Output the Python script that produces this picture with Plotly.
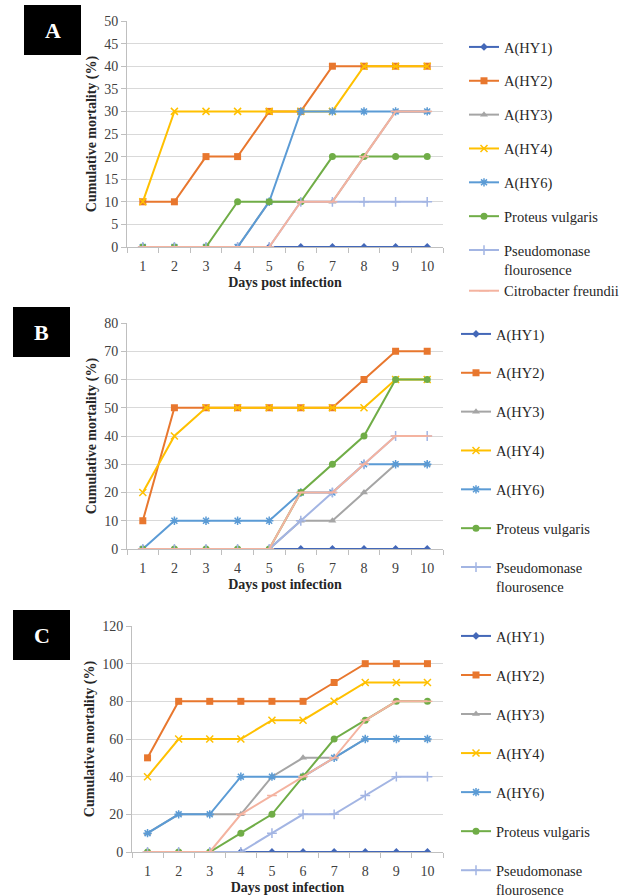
import plotly.graph_objects as go

days = ["1", "2", "3", "4", "5", "6", "7", "8", "9", "10"]
series_names = ["A(HY1)", "A(HY2)", "A(HY3)", "A(HY4)", "A(HY6)",
                "Proteus vulgaris", "Pseudomonase<br>flourosence", "Citrobacter freundii"]

# Panel A
hy1_a = [0, 0, 0, 0, 0, 0, 0, 0, 0, 0]
hy2_a = [10, 10, 20, 20, 30, 30, 40, 40, 40, 40]
hy3_a = [0, 0, 0, 0, 10, 10, 10, 20, 30, 30]
hy4_a = [10, 30, 30, 30, 30, 30, 30, 40, 40, 40]
hy6_a = [0, 0, 0, 0, 10, 30, 30, 30, 30, 30]
prot_a = [0, 0, 0, 10, 10, 10, 20, 20, 20, 20]
pseu_a = [0, 0, 0, 0, 0, 10, 10, 10, 10, 10]
citro_a = [0, 0, 0, 0, 0, 10, 10, 20, 30, 30]

# Panel B
hy1_b = [0, 0, 0, 0, 0, 0, 0, 0, 0, 0]
hy2_b = [10, 50, 50, 50, 50, 50, 50, 60, 70, 70]
hy3_b = [0, 0, 0, 0, 0, 10, 10, 20, 30, 30]
hy4_b = [20, 40, 50, 50, 50, 50, 50, 50, 60, 60]
hy6_b = [0, 10, 10, 10, 10, 20, 20, 30, 30, 30]
prot_b = [0, 0, 0, 0, 0, 20, 30, 40, 60, 60]
pseu_b = [0, 0, 0, 0, 0, 10, 20, 30, 40, 40]
citro_b = [0, 0, 0, 0, 0, 20, 20, 30, 40, 40]

# Panel C
hy1_c = [0, 0, 0, 0, 0, 0, 0, 0, 0, 0]
hy2_c = [50, 80, 80, 80, 80, 80, 90, 100, 100, 100]
hy3_c = [10, 20, 20, 20, 40, 50, 50, 60, 60, 60]
hy4_c = [40, 60, 60, 60, 70, 70, 80, 90, 90, 90]
hy6_c = [10, 20, 20, 40, 40, 40, 50, 60, 60, 60]
prot_c = [0, 0, 0, 10, 20, 40, 60, 70, 80, 80]
pseu_c = [0, 0, 0, 0, 10, 20, 20, 30, 40, 40]
citro_c = [0, 0, 0, 20, 30, 40, 50, 70, 80, 80]

y_ranges = [50, 80, 120]
y_dticks = [5, 10, 20]
panel_labels = ["A", "B", "C"]

colors = ["#4468B8", "#E8772E", "#A5A5A5", "#FFC000", "#5B9BD5", "#70AD47", "#A3B5E3", "#F4B3A0"]
symbols = ["diamond", "square", "triangle-up", "x-thin", "asterisk", "circle", "cross-thin", "line-ew"]
msizes = [6, 7, 7, 7, 7, 7, 7, 7]

panels = [
    [hy1_a, hy2_a, hy3_a, hy4_a, hy6_a, prot_a, pseu_a, citro_a],
    [hy1_b, hy2_b, hy3_b, hy4_b, hy6_b, prot_b, pseu_b, citro_b],
    [hy1_c, hy2_c, hy3_c, hy4_c, hy6_c, prot_c, pseu_c, citro_c],
]

W, H = 625, 896
# plot areas in pixels (left, right, top, bottom)
areas = [(127, 443, 21, 247), (127, 443, 323, 549), (132, 443, 626, 852)]
label_boxes = [(24, 81, 5, 55), (13, 70, 307, 357), (13, 70, 610, 660)]
legend_pos = [(464, 31), (456, 318), (456, 620)]
legend_gaps = [12, 17, 17.2]

FONT = "Liberation Serif, Times New Roman, serif"
fig = go.Figure()

for p, data in enumerate(panels):
    sfx = "" if p == 0 else str(p + 1)
    for i, ys in enumerate(data):
        open_sym = symbols[i] in ("x-thin", "asterisk", "cross-thin", "line-ew")
        show = True
        if p > 0 and i == 7:
            show = False
        group = f"p{p}s{min(i, 6)}"
        fig.add_trace(go.Scatter(
            x=days, y=ys, name=series_names[i], mode="lines+markers",
            xaxis="x" + sfx, yaxis="y" + sfx,
            legend="legend" + sfx, legendgroup=group, showlegend=show,
            line=dict(color=colors[i], width=2),
            marker=dict(symbol=symbols[i], size=msizes[i], color=colors[i],
                        line=dict(color=colors[i], width=1.5 if open_sym else 0)),
        ))

    l, r, t, b = areas[p]
    xdom = [l / W, r / W]
    ydom = [1 - b / H, 1 - t / H]
    fig.update_layout(**{
        "xaxis" + sfx: dict(
            domain=xdom, anchor="y" + sfx, type="category", automargin=False,
            range=[-0.5, len(days) - 0.5],
            tickson="boundaries", ticks="outside", ticklen=5, tickcolor="#BFBFBF",
            ticklabelstandoff=6,
            showline=True, linecolor="#BFBFBF", linewidth=1, showgrid=False,
            tickfont=dict(family=FONT, size=14, color="#404040"),
            title=dict(text="<b>Days post infection</b>", standoff=4,
                       font=dict(family=FONT, size=14, color="#262626")),
        ),
        "yaxis" + sfx: dict(
            domain=ydom, anchor="x" + sfx, range=[0, y_ranges[p]], dtick=y_dticks[p],
            automargin=False,
            ticks="outside", ticklen=5, tickcolor="#BFBFBF",
            showline=True, linecolor="#BFBFBF", linewidth=1,
            showgrid=True, gridcolor="#D9D9D9", gridwidth=1, zeroline=False,
            tickfont=dict(family=FONT, size=14, color="#404040"),
            title=dict(text="<b>Cumulative mortality (%)</b>", standoff=4,
                       font=dict(family=FONT, size=14, color="#262626")),
        ),
        "legend" + sfx: dict(
            x=legend_pos[p][0] / W, y=1 - legend_pos[p][1] / H,
            xanchor="left", yanchor="top", bgcolor="rgba(0,0,0,0)",
            font=dict(family=FONT, size=14.5, color="#262626"),
            tracegroupgap=legend_gaps[p], valign="top", itemwidth=30,
        ),
    })

    bl, br, bt, bb = label_boxes[p]
    fig.add_shape(type="rect", xref="paper", yref="paper",
                  x0=bl / W, x1=br / W, y0=1 - bb / H, y1=1 - bt / H,
                  fillcolor="black", line=dict(width=0))
    fig.add_annotation(xref="paper", yref="paper",
                       x=(bl + br) / 2 / W, y=1 - (bt + bb) / 2 / H,
                       xanchor="center", yanchor="middle",
                       text="<b>" + panel_labels[p] + "</b>", showarrow=False,
                       font=dict(family=FONT, size=22, color="white"))

fig.update_layout(
    width=W, height=H, margin=dict(l=0, r=0, t=0, b=0, autoexpand=False),
    paper_bgcolor="white", plot_bgcolor="white",
    font=dict(family=FONT),
)

fig.write_html("out.html", config={"displayModeBar": False},
               post_script="document.body.style.margin='0px';document.body.style.padding='0px';")
